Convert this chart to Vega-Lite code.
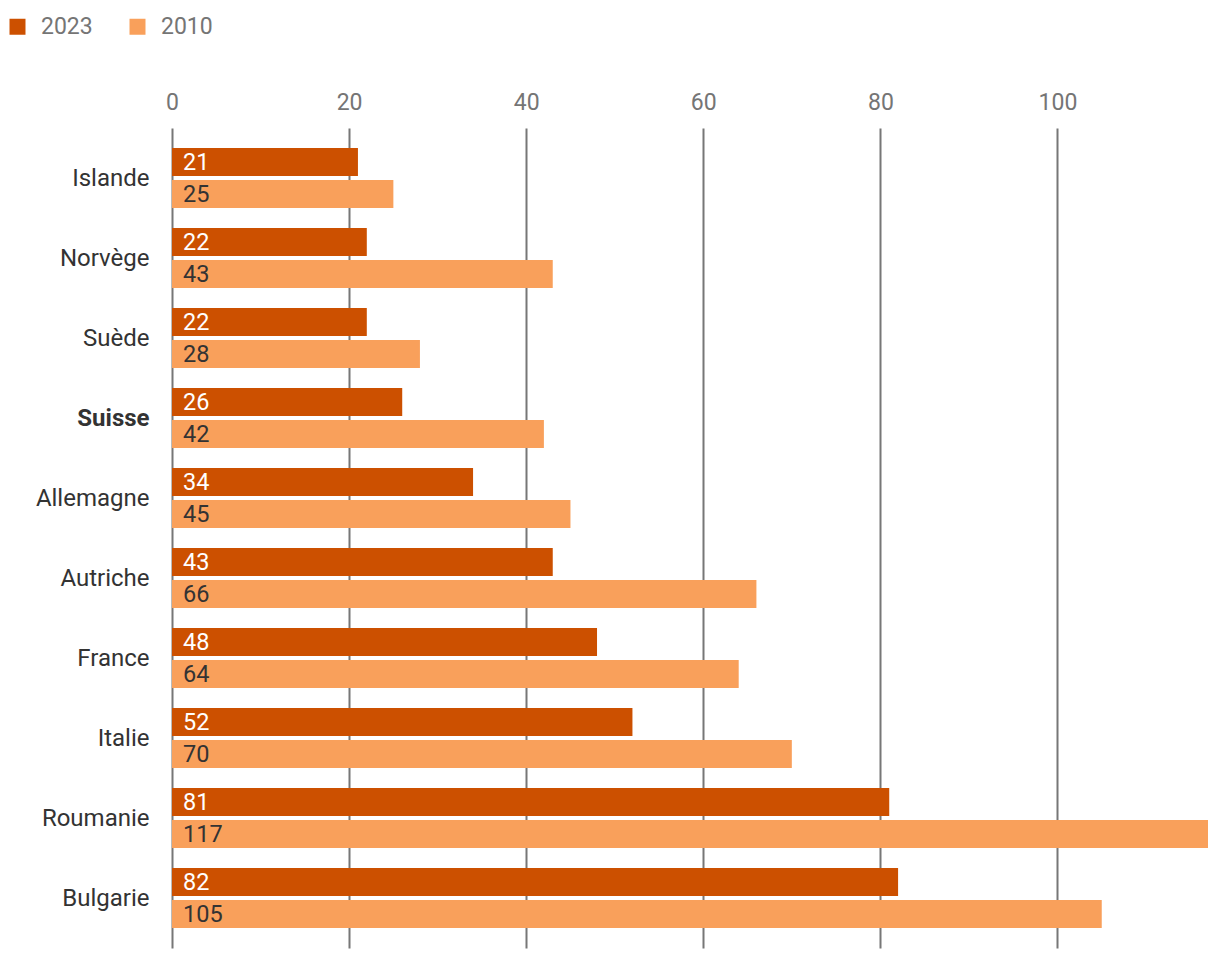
{
  "$schema": "https://vega.github.io/schema/vega-lite/v6.json",
  "autosize": {"type": "none"},
  "width": 1036,
  "height": 820,
  "padding": {"left": 172, "top": 128, "right": 12, "bottom": 12},
  "background": "white",
  "config": {"font": "Roboto", "view": {"stroke": null}},
  "data": {
    "values": [
      {"country": "Islande", "series": "2023", "value": 21},
      {"country": "Islande", "series": "2010", "value": 25},
      {"country": "Norvège", "series": "2023", "value": 22},
      {"country": "Norvège", "series": "2010", "value": 43},
      {"country": "Suède", "series": "2023", "value": 22},
      {"country": "Suède", "series": "2010", "value": 28},
      {"country": "Suisse", "series": "2023", "value": 26},
      {"country": "Suisse", "series": "2010", "value": 42},
      {"country": "Allemagne", "series": "2023", "value": 34},
      {"country": "Allemagne", "series": "2010", "value": 45},
      {"country": "Autriche", "series": "2023", "value": 43},
      {"country": "Autriche", "series": "2010", "value": 66},
      {"country": "France", "series": "2023", "value": 48},
      {"country": "France", "series": "2010", "value": 64},
      {"country": "Italie", "series": "2023", "value": 52},
      {"country": "Italie", "series": "2010", "value": 70},
      {"country": "Roumanie", "series": "2023", "value": 81},
      {"country": "Roumanie", "series": "2010", "value": 117},
      {"country": "Bulgarie", "series": "2023", "value": 82},
      {"country": "Bulgarie", "series": "2010", "value": 105}
    ]
  },
  "encoding": {
    "y": {
      "field": "country",
      "type": "nominal",
      "sort": null,
      "scale": {"paddingInner": 0.25, "paddingOuter": 0.25},
      "axis": {
        "title": null,
        "domain": false,
        "ticks": false,
        "labelFontSize": 24,
        "labelColor": "#333333",
        "labelPadding": 23,
        "labelOffset": 1,
        "labelFontWeight": {"condition": {"test": "datum.value === 'Suisse'", "value": "bold"}, "value": "normal"}
      }
    },
    "yOffset": {
      "field": "series",
      "type": "nominal",
      "sort": ["2023", "2010"],
      "scale": {"paddingInner": 0.125, "paddingOuter": 0}
    }
  },
  "layer": [
    {
      "mark": {"type": "bar"},
      "encoding": {
        "x": {
          "field": "value",
          "type": "quantitative",
          "scale": {"domain": [0, 117], "nice": false},
          "axis": {
            "orient": "top",
            "title": null,
            "values": [0, 20, 40, 60, 80, 100],
            "grid": true,
            "gridColor": "#777777",
            "gridWidth": 2,
            "domain": false,
            "ticks": false,
            "labelFlush": false,
            "labelFontSize": 23,
            "labelColor": "#757575",
            "labelPadding": 14
          }
        },
        "color": {
          "field": "series",
          "type": "nominal",
          "scale": {"domain": ["2023", "2010"], "range": ["#CC5000", "#F9A05B"]},
          "legend": {
            "orient": "none",
            "legendX": -166,
            "legendY": -113,
            "direction": "horizontal",
            "title": null,
            "symbolType": "square",
            "symbolSize": 256,
            "symbolStrokeWidth": 0,
            "labelFontSize": 23,
            "labelColor": "#757575",
            "labelOffset": 12,
            "columnPadding": 33
          }
        }
      }
    },
    {
      "mark": {"type": "text", "align": "left", "baseline": "middle", "dx": 11, "dy": 1, "fontSize": 23.5},
      "encoding": {
        "x": {"datum": 0},
        "text": {"field": "value", "type": "quantitative"},
        "color": {"condition": {"test": "datum.series === '2023'", "value": "#ffffff"}, "value": "#333333"}
      }
    }
  ]
}
